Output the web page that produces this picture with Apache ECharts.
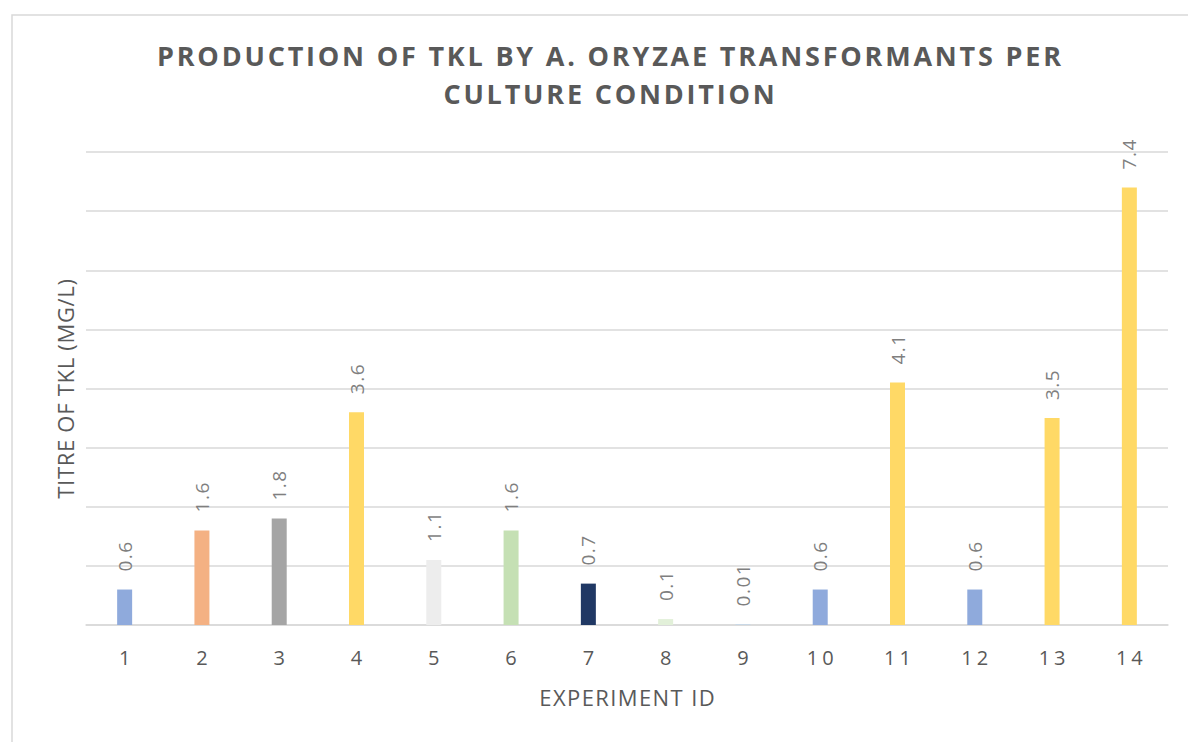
<!DOCTYPE html>
<html>
<head>
<meta charset="utf-8">
<script src="https://cdn.jsdelivr.net/npm/echarts@6/dist/echarts.min.js"></script>
<style>
  html, body { margin: 0; padding: 0; background: #fff; }
  #main { width: 1188px; height: 742px; }
</style>
</head>
<body>
<div id="main"></div>
<script>
// experiment ids and titres (mg/L)
var experimentIds = ['1', '2', '3', '4', '5', '6', '7', '8', '9', '10', '11', '12', '13', '14'];
var titres = [0.6, 1.6, 1.8, 3.6, 1.1, 1.6, 0.7, 0.1, 0.01, 0.6, 4.1, 0.6, 3.5, 7.4];
var barColors = ['#8FAADC', '#F4B183', '#A5A5A5', '#FFD966', '#EDEDED', '#C5E0B4', '#203864',
  '#E2F0D9', '#BDD7EE', '#8FAADC', '#FFD966', '#8FAADC', '#FFD966', '#FFD966'];

var myChart = echarts.init(document.getElementById('main'), null, { renderer: 'svg' });
var option = {
  animation: false,
  title: {
    text: 'PRODUCTION OF TKL BY A. ORYZAE TRANSFORMANTS PER\nCULTURE CONDITION',
    left: 604,
    textAlign: 'center',
    top: 31,
    textStyle: {
      color: '#595959',
      fontFamily: 'Open Sans',
      fontWeight: 'bold',
      fontSize: 27,
      lineHeight: 38
    }
  },
  // 外框
  graphic: [{
    type: 'rect',
    shape: { x: 12, y: 15, width: 1300, height: 900 },
    style: { fill: 'none', stroke: '#D9D9D9', lineWidth: 1.5 },
    silent: true
  }],
  grid: {
    left: 86,
    right: 20,
    top: 152,
    bottom: 117
  },
  xAxis: {
    type: 'category',
    data: experimentIds,
    name: 'EXPERIMENT ID',
    nameLocation: 'middle',
    nameGap: 61,
    nameTextStyle: { color: '#595959', fontFamily: 'Open Sans', fontSize: 22 },
    axisTick: { show: false },
    axisLine: { lineStyle: { color: '#D9D9D9', width: 1.5 } },
    axisLabel: { color: '#595959', fontFamily: 'Open Sans', fontSize: 20, margin: 22 }
  },
  yAxis: {
    type: 'value',
    min: 0,
    max: 8,
    interval: 1,
    name: 'TITRE OF TKL (MG/L)',
    nameLocation: 'middle',
    nameGap: 10,
    nameTextStyle: { color: '#595959', fontFamily: 'Open Sans', fontSize: 22 },
    axisLabel: { show: false },
    axisLine: { show: false },
    axisTick: { show: false },
    splitLine: { lineStyle: { color: '#D9D9D9', width: 1.5 } }
  },
  series: [{
    type: 'bar',
    barWidth: 15,
    data: titres.map(function (v, i) {
      return { value: v, itemStyle: { color: barColors[i] } };
    }),
    label: {
      show: true,
      position: 'top',
      rotate: 90,
      align: 'left',
      verticalAlign: 'middle',
      distance: 18,
      color: '#7F7F7F',
      fontFamily: 'Open Sans',
      fontSize: 19
    }
  }]
};
myChart.setOption(option);

// 字距 (svg)
var texts = document.querySelectorAll('#main text');
texts.forEach(function (t) {
  var s = t.textContent;
  if (s.indexOf('PRODUCTION') === 0 || s.indexOf('CULTURE') === 0) {
    t.setAttribute('letter-spacing', '2.8px');
    t.setAttribute('dx', '1.4');
  } else if (s === 'EXPERIMENT ID') {
    t.setAttribute('letter-spacing', '1.4px');
    t.setAttribute('dx', '0.7');
  } else if (s === 'TITRE OF TKL (MG/L)') {
    t.setAttribute('letter-spacing', '0.7px');
  } else if (experimentIds.indexOf(s) >= 0) {
    t.setAttribute('letter-spacing', '4px');
    t.setAttribute('dx', '2');
  } else {
    t.setAttribute('letter-spacing', '1.5px');
  }
});
</script>
</body>
</html>
